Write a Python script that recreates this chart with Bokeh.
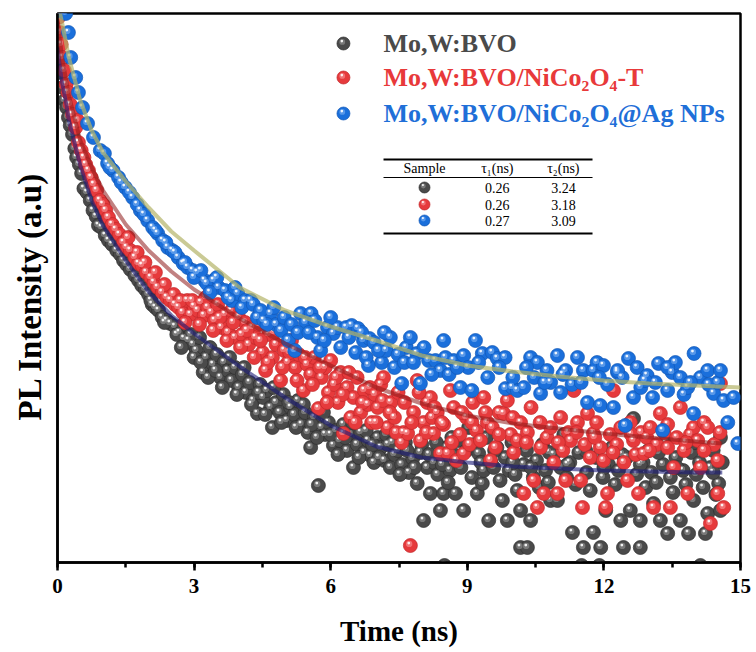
from bokeh.plotting import figure
from bokeh.models import Range1d, SingleIntervalTicker, FixedTicker, ColumnDataSource
from bokeh.core.properties import value
from bokeh.embed import file_html
from bokeh.resources import INLINE

# ---------------- data (time in ns, PL intensity in a.u.) ----------------
black_t = [0.02, 0.05, 0.08, 0.12, 0.16, 0.20, 0.24, 0.28, 0.33, 0.38, 0.42, 0.48, 0.53, 0.58, 0.65,
           0.72, 0.78, 0.85, 0.90, 0.97, 1.05, 1.12, 1.20, 1.30, 1.38, 1.45, 1.52, 1.60, 1.70, 1.78,
           1.85, 1.93, 2.00, 2.08, 2.15, 2.22, 2.30, 2.40, 2.48, 2.58, 2.68, 2.78, 2.88, 2.98,
           3.05, 3.12, 3.20, 3.27, 3.35, 3.42, 3.50, 3.58, 3.66, 3.74, 3.82, 3.90, 3.98, 4.06, 4.14,
           4.22, 4.30, 4.39, 4.45, 4.52, 4.60, 4.68, 4.72, 4.80, 4.88, 4.96, 5.04, 5.12, 5.20, 5.28,
           5.36, 5.44, 5.50, 5.56, 5.64, 5.73, 5.80, 5.88, 5.95, 6.06, 6.12, 6.20, 6.28, 6.36, 6.44,
           6.50, 6.58, 6.66, 6.74, 6.82, 6.87, 6.95, 7.03, 7.10, 7.18, 7.26, 7.31, 7.40, 7.48, 7.56,
           7.64, 7.72, 7.80, 7.90, 7.97, 8.04, 8.12, 8.19, 8.27, 8.35, 8.41, 8.48, 8.50, 8.55, 8.62,
           8.70, 8.74, 8.80, 8.86, 8.92, 8.98, 9.03, 9.10, 9.16, 9.22, 9.25, 9.33, 9.36, 9.42, 9.47,
           9.52, 9.58, 9.65, 9.72, 9.77, 9.83, 9.88, 9.92, 9.98, 10.05, 10.10, 10.17, 10.17, 10.24,
           10.30, 10.32, 10.39, 10.45, 10.52, 10.58, 10.65, 10.72, 10.78, 10.83, 10.90, 10.98, 11.05,
           11.12, 11.18, 11.25, 11.31, 11.38, 11.45, 11.51, 11.55, 11.62, 11.70, 11.77, 11.83, 11.90,
           11.93, 11.98, 12.04, 12.10, 12.18, 12.25, 12.32, 12.37, 12.43, 12.50, 12.58, 12.65, 12.72,
           12.80, 12.80, 12.86, 12.92, 12.98, 13.04, 13.09, 13.15, 13.24, 13.30, 13.36, 13.40, 13.46,
           13.52, 13.58, 13.68, 13.74, 13.80, 13.86, 13.92, 13.97, 14.03, 14.10, 14.12, 14.18, 14.23,
           14.28, 14.34, 14.40, 14.46, 14.52, 14.56, 14.56, 14.60,
           2.05, 2.35, 2.62, 2.72, 2.93, 3.00, 3.15, 3.31, 3.47, 3.62, 3.78, 3.94, 4.10, 4.26, 4.42,
           4.56, 4.75, 4.92, 5.08, 5.24, 5.40, 5.58, 5.70, 5.84, 6.00, 6.16, 6.32, 6.48, 6.62, 6.78,
           6.92, 7.06, 7.22, 7.36, 7.52, 7.68, 7.84, 8.00, 8.16, 8.32, 8.45, 8.58, 8.66, 9.30, 9.60,
           10.00, 10.40, 10.80, 11.20, 11.60, 12.00, 12.40, 12.80, 13.20, 13.60, 14.00, 14.40]
black_y = [517, 500, 490, 475, 462, 455, 445, 437, 428, 414, 405, 398, 389, 374, 370,
           362, 352, 346, 337, 335, 327, 322, 318, 312, 308, 302, 298, 293, 287, 282,
           277, 273, 268, 258, 255, 252, 245, 242, 239, 236, 230, 224, 222, 218,
           212, 225, 190, 205, 215, 198, 208, 185, 200, 192, 182, 195, 175, 188, 170,
           180, 162, 149, 178, 165, 172, 155, 135, 160, 150, 168, 142, 155, 148, 162,
           138, 150, 130, 115, 145, 77, 135, 128, 140, 117, 132, 122, 138, 112, 128,
           95, 118, 130, 110, 122, 107, 100, 125, 115, 102, 118, 95, 108, 112, 98,
           120, 90, 104, 79, 110, 42, 95, 69, 100, 88, 52, 69, -3, 115, 92,
           108, 69, 122, 95, 52, 112, 135, 85, 118, 69, 109, 79, 92, 125, 42,
           100, 95, 115, 82, 62, 105, 42, 92, 120, 88, 72, 52, 15, 98,
           112, 15, 42, 85, 102, 75, 118, 92, 80, 62, 108, 62, 95,
           128, 85, 100, 30, 78, 110, -3, 15, 90, 72, 30, 105, -3,
           15, 85, 52, 98, 115, 78, 92, 42, 15, 105, 52, 144, 88,
           42, 15, 100, 75, 112, 90, 59, 80, 42, 98, 120, 29, 85,
           70, 105, 42, 92, 78, 29, 110, 62, 88, 100, -3, 75, 29,
           49, 95, 112, 68, 79, 52, 125, 100,
           262, 240, 228, 215, 228, 205, 200, 185, 192, 175, 205, 168, 195, 158, 170,
           148, 175, 140, 160, 135, 158, 138, 125, 150, 128, 108, 125, 140, 105, 132,
           118, 105, 128, 120, 88, 112, 95, 118, 108, 120, 98, 80, 125, 100, 112,
           100, 95, 110, 98, 112, 95, 108, 98, 110, 95, 120, 90]

red_t = [0.02, 0.05, 0.08, 0.11, 0.15, 0.19, 0.23, 0.28, 0.33, 0.40, 0.44, 0.46, 0.52, 0.58, 0.62,
         0.68, 0.74, 0.80, 0.86, 0.93, 1.00, 1.06, 1.12, 1.20, 1.28, 1.36, 1.45, 1.52, 1.60, 1.70,
         1.78, 1.86, 1.95, 2.05, 2.12, 2.20, 2.30, 2.40, 2.48, 2.58, 2.66, 2.75, 2.85, 2.92, 3.00,
         3.08, 3.15, 3.22, 3.30, 3.38, 3.45, 3.52, 3.60, 3.68, 3.75, 3.82, 3.90, 3.98, 4.05, 4.12,
         4.20, 4.28, 4.35, 4.42, 4.50, 4.57, 4.64, 4.72, 4.80, 4.90, 4.98, 5.06, 5.14, 5.22, 5.30,
         5.40, 5.48, 5.56, 5.64, 5.73, 5.80, 5.88, 5.95, 6.00, 6.08, 6.16, 6.22, 6.28, 6.36, 6.44,
         6.50, 6.58, 6.66, 6.74, 6.82, 6.90, 6.97, 7.03, 7.10, 7.16, 7.25, 7.32, 7.40, 7.48, 7.56,
         7.60, 7.69, 7.75, 7.82, 7.90, 7.97, 8.04, 8.12, 8.19, 8.23, 8.26, 8.34, 8.41, 8.48, 8.57,
         8.63, 8.70, 8.76, 8.84, 8.92, 8.98, 9.05, 9.12, 9.20, 9.29, 9.36, 9.44, 9.51, 9.55, 9.62,
         9.70, 9.80, 9.88, 9.95, 10.02, 10.10, 10.17, 10.24, 10.32, 10.40, 10.46, 10.54, 10.61,
         10.68, 10.75, 10.83, 10.90, 10.98, 11.05, 11.10, 11.16, 11.22, 11.27, 11.34, 11.42, 11.49,
         11.53, 11.58, 11.64, 11.70, 11.77, 11.84, 11.92, 11.99, 12.04, 12.08, 12.14, 12.21, 12.28,
         12.37, 12.44, 12.52, 12.58, 12.65, 12.70, 12.76, 12.82, 12.87, 12.94, 13.02, 13.09, 13.16,
         13.24, 13.32, 13.40, 13.46, 13.53, 13.60, 13.68, 13.76, 13.84, 13.90, 13.97, 14.06, 14.12,
         14.20, 14.28, 14.34, 14.42, 14.50, 14.50, 14.56, 14.63,
         1.55, 1.75, 1.92, 2.15, 2.35, 2.55, 2.70, 2.80, 2.96, 3.12, 3.26, 3.42, 3.56, 3.72, 3.86,
         4.02, 4.16, 4.32, 4.46, 4.62, 4.76, 4.94, 5.10, 5.26, 5.44, 5.60, 5.76, 5.92, 6.12, 6.26,
         6.40, 6.54, 6.70, 6.86, 7.00, 7.14, 7.30, 7.44, 7.62, 7.78, 7.94, 8.10, 8.28, 8.44, 8.66,
         8.88, 9.10, 9.40, 9.70, 10.00, 10.30, 10.60, 11.00, 11.40, 11.80, 12.20, 12.60, 13.00,
         13.40, 13.80, 14.20, 14.55]
red_y = [545, 530, 518, 505, 492, 478, 470, 458, 448, 435, 442, 420, 412, 405, 398,
         392, 385, 378, 372, 362, 358, 352, 345, 338, 333, 328, 320, 315, 312, 305,
         299, 297, 290, 285, 280, 275, 270, 265, 262, 258, 255, 250, 262, 248, 256,
         252, 260, 247, 255, 250, 242, 258, 235, 248, 230, 252, 225, 245, 228, 240,
         218, 235, 225, 238, 210, 192, 228, 205, 218, 182, 212, 200, 222, 195, 208,
         172, 198, 188, 205, 154, 185, 195, 170, 202, 178, 160, 190, 129, 175, 145,
         165, 185, 150, 172, 158, 140, 168, 155, 178, 185, 135, 160, 145, 170, 120,
         130, 129, 17, 150, 182, 122, 140, 160, 165, 145, 129, 150, 109, 138, 109,
         172, 155, 102, 128, 109, 145, 118, 160, 132, 122, 165, 140, 102, 135, 115,
         150, 149, 162, 128, 110, 122, 140, 69, 130, 155, 82, 55, 115,
         69, 125, 135, 100, 69, 145, 112, 82, 130, 122, 172, 140, 82,
         55, 118, 149, 105, 129, 140, 115, 102, 55, 69, 128, 172, 118,
         135, 100, 82, 140, 122, 108, 69, 130, 109, 125, 135, 55, 118,
         149, 130, 115, 55, 95, 125, 155, 112, 69, 128, 135, 122, 95,
         140, 135, 39, 118, 102, 69, 179, 55,
         325, 310, 300, 290, 278, 268, 262, 240, 262, 238, 265, 232, 245, 222, 240,
         215, 232, 205, 222, 200, 230, 195, 210, 182, 205, 178, 195, 160, 185, 168,
         190, 140, 160, 175, 140, 162, 150, 130, 160, 140, 170, 130, 155, 140, 120,
         150, 140, 150, 128, 145, 120, 140, 120, 130, 125, 110, 128, 112,
         138, 120, 112, 130]

blue_t = [0.05, 0.18, 0.24, 0.29, 0.40, 0.46, 0.55, 0.66, 0.79, 0.94, 1.03, 1.10, 1.22, 1.34, 1.49,
          1.65, 1.82, 1.98, 2.09, 2.20, 2.31, 2.42, 2.52, 2.65, 2.76, 2.86, 2.97, 3.07, 3.23, 3.28,
          3.43, 3.54, 3.68, 3.83, 3.96, 4.12, 4.24, 4.39, 4.53, 4.68, 4.80, 4.91, 5.07, 5.21, 5.34,
          5.45, 5.57, 5.71, 5.78, 5.93, 6.06, 6.15, 6.34, 6.46, 6.60, 6.72, 6.83, 6.85, 6.95, 7.12,
          7.22, 7.31, 7.40, 7.56, 7.66, 7.75, 7.89, 7.97, 8.15, 8.30, 8.41, 8.48, 8.60, 8.70, 8.85,
          8.92, 9.02, 9.10, 9.18, 9.33, 9.45, 9.55, 9.66, 9.83, 9.84, 9.99, 10.10, 10.24, 10.39,
          10.47, 10.54, 10.61, 10.75, 10.83, 10.98, 11.05, 11.16, 11.30, 11.42, 11.55, 11.64, 11.77,
          11.85, 11.92, 11.99, 12.08, 12.21, 12.30, 12.40, 12.47, 12.54, 12.65, 12.73, 12.81, 12.95,
          13.07, 13.13, 13.20, 13.29, 13.40, 13.50, 13.57, 13.68, 13.76, 13.84, 13.97, 13.98, 14.12,
          14.28, 14.41, 14.50, 14.56, 14.63, 14.72, 14.85, 14.94,
          1.15, 1.40, 1.58, 1.75, 1.90, 2.15, 2.38, 2.58, 2.80, 3.00, 3.15, 3.35, 3.50, 3.75, 3.90,
          4.05, 4.30, 4.46, 4.60, 4.75, 4.98, 5.14, 5.28, 5.52, 5.65, 5.86, 6.00, 6.22, 6.40, 6.55,
          6.68, 6.78, 7.05, 7.18, 7.48, 7.62, 7.82, 8.05, 8.22, 8.52, 8.78, 9.25, 9.70, 10.00,
          10.30, 10.70, 11.10, 11.50, 11.90, 12.30, 12.90, 13.40, 13.90, 14.30]
blue_y = [552, 549, 530, 505, 485, 470, 455, 439, 425, 412, 409, 399, 392, 385, 375,
          365, 352, 342, 335, 329, 322, 315, 312, 305, 299, 295, 292, 290, 282, 279,
          282, 275, 272, 262, 269, 262, 262, 245, 242, 249, 238, 232, 222, 212, 249,
          240, 249, 225, 212, 235, 229, 235, 235, 237, 234, 222, 197, 224, 220, 200,
          212, 225, 195, 179, 215, 225, 209, 179, 202, 202, 192, 222, 188, 202, 175,
          207, 195, 172, 222, 209, 185, 210, 204, 205, 174, 175, 172, 175, 205,
          185, 200, 169, 192, 180, 207, 170, 192, 178, 205, 192, 160, 192,
          200, 157, 197, 178, 155, 190, 185, 137, 204, 165, 195, 175, 187,
          165, 180, 199, 132, 172, 190, 200, 185, 168, 175, 149, 209, 185,
          192, 169, 180, 192, 162, 140, 165, 119,
          395, 380, 370, 358, 348, 332, 320, 310, 300, 285, 292, 270, 285, 265, 275,
          255, 258, 252, 238, 255, 245, 238, 230, 230, 242, 222, 245, 215, 225, 210,
          230, 205, 212, 230, 208, 200, 200, 215, 188, 205, 195, 200, 195, 185,
          195, 180, 188, 180, 185, 192, 182, 195, 180, 178]

# bi-exponential fit curves
fit_black_t = [0, 0.1, 0.18, 0.25, 0.5, 0.75, 1.0, 1.5, 2.0, 2.5, 3.0, 4.0, 5.0, 6.0, 7.0, 8.0,
               9.0, 10.0, 11.0, 12.0, 13.0, 14.0, 14.6]
fit_black_y = [515, 480, 462, 442, 397, 362, 337, 302, 271, 247, 229, 196, 165, 137, 116, 105,
               100, 96, 94, 92, 91, 90, 90]
fit_red_t = [0, 0.1, 0.25, 0.5, 0.75, 1.0, 1.5, 2.0, 2.5, 3.0, 4.0, 5.0, 6.0, 7.0, 8.0, 9.0,
             10.0, 11.0, 12.0, 13.0, 14.0, 14.6]
fit_red_y = [542, 505, 467, 422, 395, 372, 338, 312, 291, 273, 244, 219, 197, 175, 159, 147,
             139, 134, 129, 125, 121, 119]
fit_blue_t = [0, 0.1, 0.25, 0.5, 0.75, 1.0, 1.5, 2.0, 2.5, 3.0, 4.0, 5.0, 6.0, 7.0, 8.0, 9.0,
              10.0, 11.0, 12.0, 13.0, 14.0, 15.0]
fit_blue_y = [560, 540, 505, 462, 432, 410, 381, 355, 331, 312, 275, 252, 236, 222, 207, 197,
              191, 186, 182, 179, 177, 175]

series_names = ["Mo,W:BVO", "Mo,W:BVO/NiCo\u2082O\u2084-T", "Mo,W:BVO/NiCo\u2082O\u2084@Ag NPs"]
tau1 = ["0.26", "0.26", "0.27"]
tau2 = ["3.24", "3.18", "3.09"]

# styles
base_cols = ["#4a4a4a", "#e63a3c", "#1a6fdb"]
edge_cols = ["#2e2e2e", "#c2262a", "#1258b5"]
mid_cols = ["#9a9a9a", "#f79a9b", "#7fb3f2"]
text_cols = ["#4a4a4a", "#e8393a", "#1f6fd8"]
fit_cols = ["#1c1c78", "#8e1a1a", "#b4b468"]
fit_alphas = [0.6, 0.55, 0.7]
SERIF = "Liberation Serif"

p = figure(width=756, height=652, output_backend="svg", toolbar_location=None,
           x_range=Range1d(0, 15), y_range=Range1d(0, 549),
           min_border_left=57, min_border_right=16, min_border_top=13, min_border_bottom=90)
p.background_fill_color = "white"
p.border_fill_color = "white"
p.grid.visible = False
p.outline_line_color = "black"
p.outline_line_width = 2.5

# x axis
p.xaxis.ticker = SingleIntervalTicker(interval=3, num_minor_ticks=2)
p.xaxis.axis_line_width = 2.5
p.xaxis.major_tick_line_width = 2.5
p.xaxis.minor_tick_line_width = 2.5
p.xaxis.major_tick_in = 0
p.xaxis.major_tick_out = 8
p.xaxis.minor_tick_in = 0
p.xaxis.minor_tick_out = 5
p.xaxis.major_label_text_font = SERIF
p.xaxis.major_label_text_font_style = "bold"
p.xaxis.major_label_text_font_size = "21px"
p.xaxis.major_label_text_color = "black"
p.xaxis.major_label_standoff = 8
p.xaxis.axis_label = "Time (ns)"
p.xaxis.axis_label_text_font = SERIF
p.xaxis.axis_label_text_font_style = "bold"
p.xaxis.axis_label_text_font_size = "29px"
p.xaxis.axis_label_text_color = "black"
p.xaxis.axis_label_standoff = 19

# y axis (no ticks)
p.yaxis.ticker = FixedTicker(ticks=[])
p.yaxis.axis_line_width = 2.5
p.yaxis.major_tick_line_color = None
p.yaxis.minor_tick_line_color = None
p.yaxis.axis_label = "PL Intensity (a.u)\u00a0\u00a0"
p.yaxis.axis_label_text_font = SERIF
p.yaxis.axis_label_text_font_style = "bold"
p.yaxis.axis_label_text_font_size = "33px"
p.yaxis.axis_label_text_color = "black"
p.yaxis.axis_label_standoff = 10

DX = 15 / 683.0  # ns per screen pixel
DY = 1.0         # intensity unit per screen pixel


def spheres(xs, ys, i, size=14):
    src = ColumnDataSource(dict(x=xs, y=ys,
                                hx=[v - 1.2 * DX for v in xs], hy=[v + 1.6 * DY for v in ys],
                                sx=[v - 1.6 * DX for v in xs], sy=[v + 2.4 * DY for v in ys]))
    p.scatter("x", "y", source=src, size=size, fill_color=base_cols[i],
              line_color=edge_cols[i], line_width=0.7)
    p.scatter("hx", "hy", source=src, size=size * 0.45, fill_color=mid_cols[i],
              fill_alpha=0.6, line_color=None)
    p.scatter("sx", "sy", source=src, size=size * 0.2, fill_color="white",
              fill_alpha=0.9, line_color=None)


spheres(black_t, black_y, 0)
spheres(red_t, red_y, 1)
spheres(blue_t, blue_y, 2)

for i, (ft, fy) in enumerate([(fit_black_t, fit_black_y), (fit_red_t, fit_red_y),
                              (fit_blue_t, fit_blue_y)]):
    p.line(ft, fy, line_color=fit_cols[i], line_alpha=fit_alphas[i], line_width=4)

# legend (placed in data coordinates)
leg_x = [6.28, 6.28, 6.28]
leg_y = [519, 485, 449]
for i in range(3):
    spheres([leg_x[i]], [leg_y[i]], i, size=13)
p.text(x=[7.16] * 3, y=leg_y, text=series_names, text_color=text_cols,
       text_font=value(SERIF), text_font_style="bold", text_font_size="26px",
       text_baseline="middle", text_align="left")

# table
tab_l, tab_r = 7.16, 11.75
p.segment(x0=[tab_l, tab_l], y0=[403, 329], x1=[tab_r, tab_r], y1=[403, 329],
          line_color="black", line_width=2.2)
p.segment(x0=[tab_l], y0=[385], x1=[tab_r], y1=[385], line_color="black", line_width=1)
col_x = [8.06, 9.66, 11.11]
p.text(x=col_x, y=[394] * 3, text=["Sample", "\u03c4\u2081(ns)", "\u03c4\u2082(ns)"],
       text_color="black", text_font=value(SERIF), text_font_size="14px",
       text_baseline="middle", text_align="center")
row_y = [375, 358, 342]
for i in range(3):
    spheres([col_x[0]], [row_y[i]], i, size=11)
p.text(x=[col_x[1]] * 3, y=row_y, text=tau1, text_color="black", text_font=value(SERIF),
       text_font_size="14px", text_baseline="middle", text_align="center")
p.text(x=[col_x[2]] * 3, y=row_y, text=tau2, text_color="black", text_font=value(SERIF),
       text_font_size="14px", text_baseline="middle", text_align="center")

open("out.html", "w").write(file_html(p, INLINE))
